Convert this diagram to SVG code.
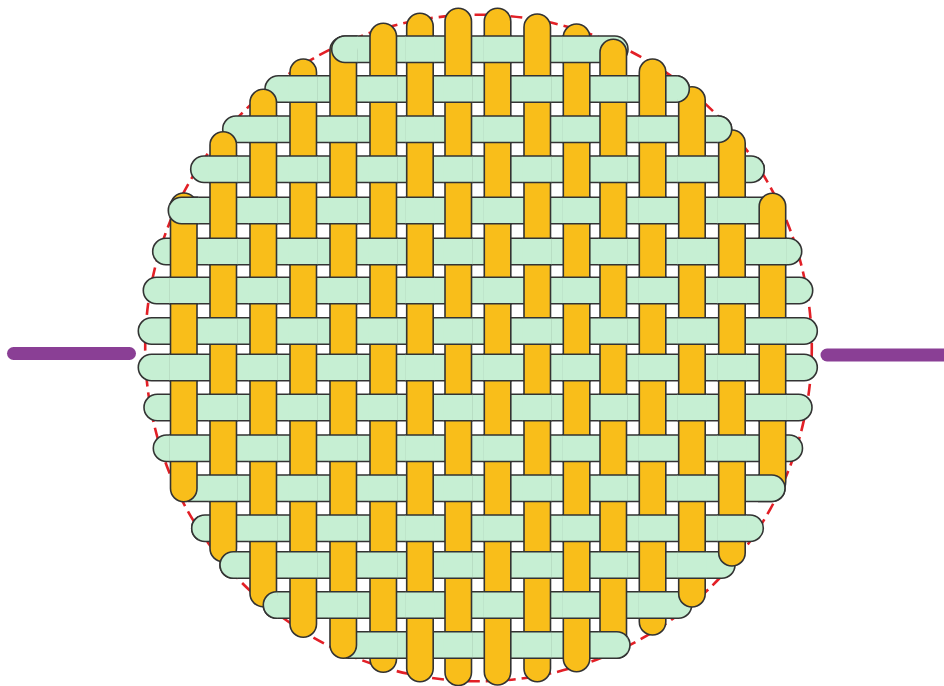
<svg xmlns="http://www.w3.org/2000/svg" width="944" height="686" viewBox="0 0 944 686">
<style>
.h{fill:#C6EFD3;stroke:#333;stroke-width:1.6}
.v{fill:#F9BE1A;stroke:#333;stroke-width:1.6}
.lead{stroke:#8A3F95;stroke-width:13;stroke-linecap:round;fill:none}
.ring{fill:none;stroke:#E21F26;stroke-width:2.6;stroke-dasharray:12 6}
</style>
<defs>
<clipPath id="ce">
<rect x="169.3" y="0" width="28.9" height="686"/>
<rect x="248.8" y="0" width="28.9" height="686"/>
<rect x="328.8" y="0" width="28.9" height="686"/>
<rect x="405.5" y="0" width="28.9" height="686"/>
<rect x="483.1" y="0" width="28.9" height="686"/>
<rect x="562.1" y="0" width="28.9" height="686"/>
<rect x="638.1" y="0" width="28.9" height="686"/>
<rect x="717.5" y="0" width="28.9" height="686"/>
</clipPath>
<clipPath id="co">
<rect x="208.8" y="0" width="28.9" height="686"/>
<rect x="288.8" y="0" width="28.9" height="686"/>
<rect x="368.8" y="0" width="28.9" height="686"/>
<rect x="443.8" y="0" width="28.9" height="686"/>
<rect x="522.8" y="0" width="28.9" height="686"/>
<rect x="598.8" y="0" width="28.9" height="686"/>
<rect x="677.5" y="0" width="28.9" height="686"/>
<rect x="758" y="0" width="28.9" height="686"/>
</clipPath>
</defs>
<g id="leads">
<line class="lead" x1="13.5" y1="353.5" x2="129.5" y2="353.5"/>
<line class="lead" x1="827" y1="355" x2="950" y2="355"/>
</g>
<circle id="outline" class="ring" cx="478.5" cy="348" r="333.3"/>
<g id="rows">
<rect id="r0" class="h" x="331.7" y="36" width="296.3" height="26.5" rx="13.25"/>
<rect id="r1" class="h" x="265" y="75.7" width="424.3" height="26.5" rx="13.25"/>
<rect id="r2" class="h" x="222.7" y="116" width="509" height="26.5" rx="13.25"/>
<rect id="r3" class="h" x="190.7" y="156" width="573.6" height="26.5" rx="13.25"/>
<rect id="r4" class="h" x="168.3" y="197.3" width="611.7" height="26.5" rx="13.25"/>
<rect id="r5" class="h" x="152.7" y="238.3" width="649" height="26.5" rx="13.25"/>
<rect id="r6" class="h" x="143.3" y="277.3" width="669.4" height="26.5" rx="13.25"/>
<rect id="r7" class="h" x="138.3" y="317.7" width="679" height="26.5" rx="13.25"/>
<rect id="r8" class="h" x="138.3" y="354.3" width="679" height="26.5" rx="13.25"/>
<rect id="r9" class="h" x="144" y="394.3" width="668" height="26.5" rx="13.25"/>
<rect id="r10" class="h" x="153.3" y="435" width="649.2" height="26.5" rx="13.25"/>
<rect id="r11" class="h" x="175" y="475" width="610" height="26.5" rx="13.25"/>
<rect id="r12" class="h" x="191.7" y="515" width="571.6" height="26.5" rx="13.25"/>
<rect id="r13" class="h" x="220" y="551.7" width="515" height="26.5" rx="13.25"/>
<rect id="r14" class="h" x="263.3" y="591.7" width="428.4" height="26.5" rx="13.25"/>
<rect id="r15" class="h" x="335" y="631.7" width="295" height="26.5" rx="13.25"/>
</g>
<g id="columns">
<rect class="v" x="170.5" y="193" width="26.5" height="308.7" rx="13.25"/>
<rect class="v" x="210" y="131.7" width="26.5" height="430" rx="13.25"/>
<rect class="v" x="250" y="89.3" width="26.5" height="517.4" rx="13.25"/>
<rect class="v" x="290" y="59" width="26.5" height="578.3" rx="13.25"/>
<rect class="v" x="330" y="37" width="26.5" height="621.3" rx="13.25"/>
<rect class="v" x="370" y="23.3" width="26.5" height="649" rx="13.25"/>
<rect class="v" x="406.7" y="13.3" width="26.5" height="668.4" rx="13.25"/>
<rect class="v" x="445" y="8.3" width="26.5" height="677.2" rx="13.25"/>
<rect class="v" x="484.3" y="8.3" width="26.5" height="676.7" rx="13.25"/>
<rect class="v" x="524" y="14" width="26.5" height="667.7" rx="13.25"/>
<rect class="v" x="563.3" y="24" width="26.5" height="647.7" rx="13.25"/>
<rect class="v" x="600" y="39.3" width="26.5" height="612.7" rx="13.25"/>
<rect class="v" x="639.3" y="59" width="26.5" height="576" rx="13.25"/>
<rect class="v" x="678.7" y="86.7" width="26.5" height="520.3" rx="13.25"/>
<rect class="v" x="718.7" y="130" width="26.5" height="436" rx="13.25"/>
<rect class="v" x="759.2" y="193.3" width="26.5" height="301.7" rx="13.25"/>
</g>
<g id="row-overs">
<use href="#r0" clip-path="url(#ce)"/>
<use href="#r1" clip-path="url(#co)"/>
<use href="#r2" clip-path="url(#ce)"/>
<use href="#r3" clip-path="url(#co)"/>
<use href="#r4" clip-path="url(#ce)"/>
<use href="#r5" clip-path="url(#co)"/>
<use href="#r6" clip-path="url(#ce)"/>
<use href="#r7" clip-path="url(#co)"/>
<use href="#r8" clip-path="url(#ce)"/>
<use href="#r9" clip-path="url(#co)"/>
<use href="#r10" clip-path="url(#ce)"/>
<use href="#r11" clip-path="url(#co)"/>
<use href="#r12" clip-path="url(#ce)"/>
<use href="#r13" clip-path="url(#co)"/>
<use href="#r14" clip-path="url(#ce)"/>
<use href="#r15" clip-path="url(#co)"/>
</g>
</svg>
